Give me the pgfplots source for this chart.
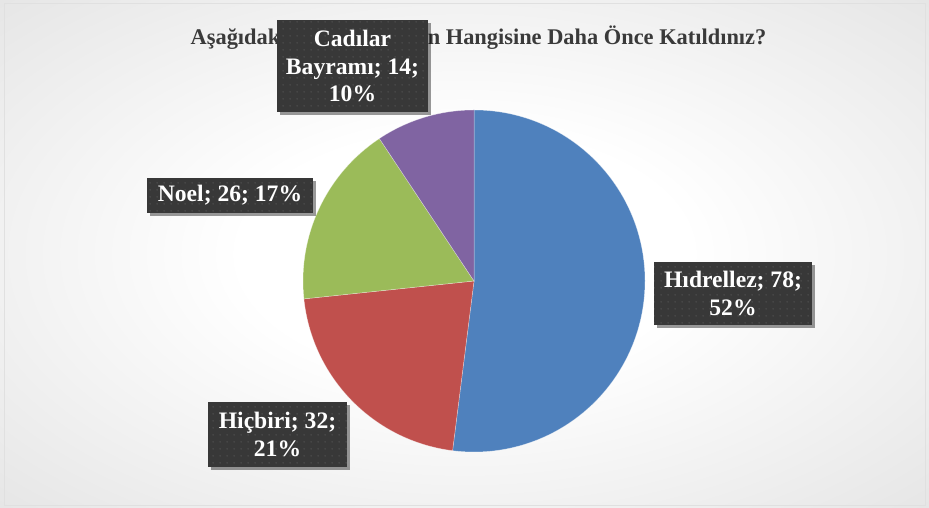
\documentclass[border=0pt]{standalone}
\usepackage{pgfplots}
\pgfplotsset{compat=1.18}
\usepackage{pgfplotstable}
\usepackage{fontspec}
\setmainfont{Liberation Serif}[BoldFont={Liberation Serif Bold}]
\usetikzlibrary{shadows,patterns.meta}

\definecolor{slice0}{HTML}{4F81BD}
\definecolor{slice1}{HTML}{C0504D}
\definecolor{slice2}{HTML}{9BBB59}
\definecolor{slice3}{HTML}{8064A2}
\definecolor{boxbg}{HTML}{383838}
\definecolor{boxdot}{HTML}{4C4C4C}
\definecolor{titlecol}{HTML}{3A3A3A}

\pgfdeclareradialshading{chartbg}{\pgfpoint{0bp}{0bp}}{%
  color(0bp)=(white); color(12bp)=(white); color(50bp)=(black!16); color(72bp)=(black!22)}

\tikzdeclarepattern{
  name=boxdots, type=uncolored,
  bounding box={(0pt,0pt) and (7pt,7pt)},
  tile size={(7pt,7pt)},
  code={\fill (3.5pt,3.5pt) circle (1pt);}
}

\pgfplotstableread{
idx value
0 78
1 32
2 26
3 14
}\piedata

\tikzset{
  lbl/.style={fill=boxbg, text=white, align=center, inner sep=0pt,
    font=\fontsize{23.6}{27.5}\selectfont\bfseries,
    postaction={pattern=boxdots, pattern color=boxdot},
    drop shadow={shadow xshift=2.5pt, shadow yshift=-3pt, opacity=0.4, fill=black}}
}

\begin{document}
\begin{tikzpicture}[x=1pt,y=1pt]
  \shade[shading=chartbg] (0,0) rectangle (929,508);
  \draw[black!12, line width=0.8pt] (4,3) rectangle (925,505);

  \node[anchor=base, text=titlecol, font=\fontsize{22.4}{26}\selectfont\bfseries]
    at (478.5,463) {Aşağıdaki Kutlamalardan Hangisine Daha Önce Katıldınız?};

  \begin{axis}[at={(474pt,227pt)}, anchor=center, scale only axis,
      width=342pt, height=342pt, xmin=-1, xmax=1, ymin=-1, ymax=1,
      hide axis, clip=false]
    \pgfplotstablegetrowsof{\piedata}
    \pgfmathtruncatemacro\N{\pgfplotsretval-1}
    \def\total{0}
    \pgfplotsforeachungrouped \i in {0,...,\N}{%
      \pgfplotstablegetelem{\i}{value}\of\piedata
      \pgfmathsetmacro\total{\total+\pgfplotsretval}%
    }
    \def\cum{0}
    \pgfplotsforeachungrouped \i in {0,...,\N}{%
      \pgfplotstablegetelem{\i}{value}\of\piedata
      \let\v\pgfplotsretval
      \pgfmathsetmacro\sa{90-\cum/\total*360}%
      \pgfmathsetmacro\cum{\cum+\v}%
      \pgfmathsetmacro\ea{90-\cum/\total*360}%
      \edef\tmp{\noexpand\fill[fill=slice\i, draw=white, draw opacity=0.45, line width=0.5pt]
        (axis cs:0,0) -- (axis cs:{cos(\sa)},{sin(\sa)})
        arc[start angle=\sa, end angle=\ea, radius=171pt] -- cycle;}%
      \tmp
    }
  \end{axis}

  \node[lbl, minimum width=151pt, minimum height=92pt] at (352.5,442) {Cadılar\\Bayramı; 14;\\10\%};
  \node[lbl, minimum width=166pt, minimum height=35pt] at (230,312.5) {Noel; 26; 17\%};
  \node[lbl, minimum width=158pt, minimum height=63pt] at (733,214.5) {Hıdrellez; 78;\\52\%};
  \node[lbl, minimum width=139pt, minimum height=65pt] at (277.5,73.5) {Hiçbiri; 32;\\21\%};
\end{tikzpicture}
\end{document}
